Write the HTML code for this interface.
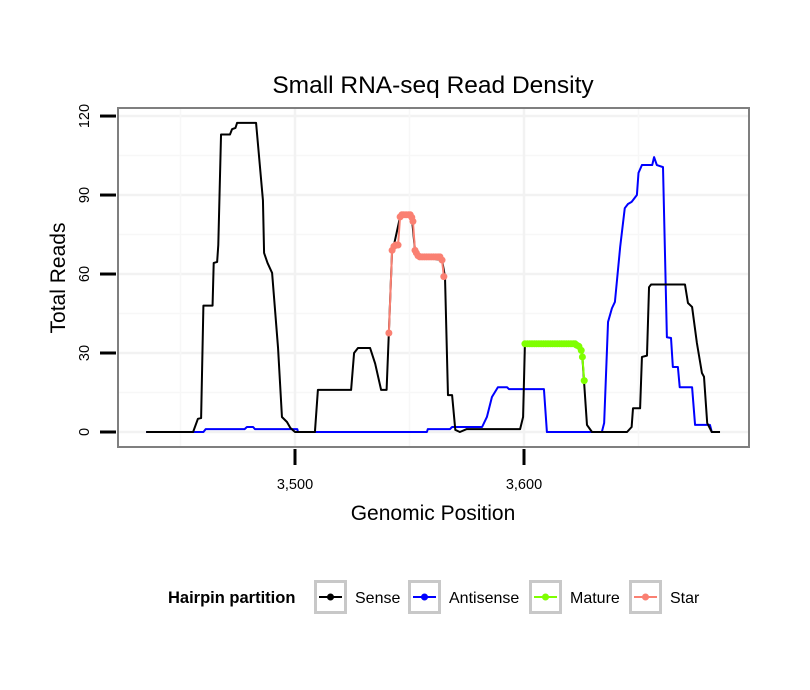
<!DOCTYPE html>
<html><head><meta charset="utf-8"><style>
body{margin:0;background:#fff;}
svg{display:block;font-family:"Liberation Sans",sans-serif;}
</style></head><body>
<svg id="c" width="810" height="690" xmlns="http://www.w3.org/2000/svg">
<text x="433" y="93" font-size="24.5" text-anchor="middle">Small RNA-seq Read Density</text>
<g id="grid"></g>
<g id="series"></g>
<rect x="118" y="108" width="631" height="339" fill="none" stroke="#7f7f7f" stroke-width="2"/>
<g id="axes"></g>
<text transform="translate(65,278) rotate(-90)" font-size="21" text-anchor="middle">Total Reads</text>
<text x="433" y="520" font-size="21" text-anchor="middle">Genomic Position</text>
<g>
<text x="168" y="603" font-size="16.5" font-weight="bold">Hairpin partition</text>
<g id="legend"></g>
</g>
</svg>
<script>
const yTicks=[0,30,60,90,120];
const xTicks=[3500,3600];
const xTickLabels=["3,500","3,600"];
const senseX=[3435,3455.5,3457.6,3459,3460,3464,3464.5,3466,3466.5,3467.7,3471.6,3472.5,3474,3474.7,3483,3486,3486.5,3488,3490,3492.6,3494.3,3496.5,3498,3500,3508.7,3510,3524.5,3525.8,3527.5,3532.8,3535,3537.6,3540,3542.4,3543.2,3545.9,3551,3552.4,3553.7,3564.2,3565.5,3566.8,3568.6,3570,3572,3575,3598.3,3599.6,3600.4,3622.3,3625.3,3627.5,3629.7,3645,3647,3647.6,3650.7,3651.5,3653.7,3654.6,3655.5,3670.3,3671.6,3673.4,3675.5,3677.7,3678.6,3680,3682,3685.6];
const senseY=[0,0,5,5.3,48,48,64.2,64.6,71,113,113,115,115.5,117.4,117.4,88,68,64.2,60.4,31.9,5.7,3.8,1.5,0,0,16,16,30,31.9,31.9,26,16,16,69,71,81.7,81.7,69,66.5,65.3,59,14,14,0.8,0,1.1,1.1,5.7,33.4,33.4,31,2.7,0,0,1.9,9,9,28.5,29,55,56,56,49,47.5,33.8,22.4,21,3.4,0,0];
const antiX=[3435,3460,3461,3478,3479,3481.7,3482.5,3501,3501.3,3557.6,3558,3567.7,3568.6,3581.7,3583.8,3586,3588.6,3592.6,3593.4,3608.7,3610,3634,3635,3636.7,3638.4,3639.7,3642,3644,3645.4,3647,3649.3,3650,3651.5,3656,3656.8,3658,3660.7,3662.4,3664.2,3665,3667.2,3668,3673.4,3674.7,3681.2,3682,3685];
const antiY=[0,0,1.1,1.1,1.9,1.9,1.1,1.1,0,0,1.1,1.1,1.9,1.9,5.7,13.3,17,17,16.3,16.3,0,0,3.4,41.8,47,49.4,70.3,85,86.6,87.4,90,98.4,101.4,101.4,104.4,101.4,100.6,36,35.7,24.7,24.7,17,17,2.7,2.7,0,0];
const starX=[3541,3542.4,3543.2,3544,3545,3545.9,3546.7,3547.5,3548.5,3549.5,3550.3,3551,3551.5,3552.4,3553,3553.7,3554.5,3555.5,3556.5,3557.5,3558.5,3559.5,3560.5,3561.5,3562.5,3563.3,3564.2,3565];
const starY=[37.6,69,70.5,71,71,81.7,82.5,82.5,82.5,82.5,82.5,81.5,80,69,68,67,66.5,66.5,66.5,66.5,66.5,66.5,66.5,66.5,66.5,66.5,65.3,59];
const matX=[3600.4,3601.5,3602.5,3603.5,3604.5,3605.5,3606.5,3607.5,3608.5,3609.5,3610.5,3611.5,3612.5,3613.5,3614.5,3615.5,3616.5,3617.5,3618.5,3619.5,3620.5,3621.5,3622.3,3623,3624,3625,3625.5,3626.3];
const matY=[33.5,33.5,33.5,33.5,33.5,33.5,33.5,33.5,33.5,33.5,33.5,33.5,33.5,33.5,33.5,33.5,33.5,33.5,33.5,33.5,33.5,33.5,33.5,33,32.5,31,28.5,19.5];
const legendLabels=["Sense","Antisense","Mature","Star"];
const legendColors=["#000000","#0000ff","#7fff00","#fa8072"];

const NS="http://www.w3.org/2000/svg";
function X(v){return 295+(v-3500)*2.29;}
function Y(v){return 432-v*2.633;}
function mk(tag,attrs,parent){const e=document.createElementNS(NS,tag);for(const k in attrs)e.setAttribute(k,attrs[k]);parent.appendChild(e);return e;}
const grid=document.getElementById('grid'),series=document.getElementById('series'),axes=document.getElementById('axes'),legend=document.getElementById('legend');
for(let i=0;i<yTicks.length;i++){
  const l=mk('line',{x1:119,x2:748,y1:Y(yTicks[i]),y2:Y(yTicks[i]),stroke:'#f2f2f2','stroke-width':2.5},grid);
  
  
  if(i<yTicks.length-1){
    const m=mk('line',{x1:119,x2:748,y1:Y((yTicks[i]+yTicks[i+1])/2),y2:Y((yTicks[i]+yTicks[i+1])/2),stroke:'#f7f7f7','stroke-width':1.5},grid);
    
    
  }
}
const step=xTicks[1]-xTicks[0];
for(let v=xTicks[0]-step;v<=xTicks[xTicks.length-1]+step;v+=step/2){
  const px=X(v);if(px<119||px>748)continue;
  const major=xTicks.includes(v);
  const l=mk('line',{x1:px,x2:px,y1:109,y2:446,stroke:major?'#f2f2f2':'#f7f7f7','stroke-width':major?2.5:1.5},grid);
  
  
}
yTicks.forEach(v=>{
  const t=mk('line',{x1:100,x2:116,y1:Y(v),y2:Y(v),stroke:'#000','stroke-width':3},axes);
  
  
  const tx=mk('text',{transform:`translate(89,${Y(v)}) rotate(-90)`,'font-size':14.5,'text-anchor':'middle'},axes);
  tx.textContent=v;
  
  
});
xTicks.forEach((v,i)=>{
  const t=mk('line',{x1:X(v),x2:X(v),y1:449,y2:465,stroke:'#000','stroke-width':3},axes);
  
  
  const tx=mk('text',{x:X(v),y:489,'font-size':14.5,'text-anchor':'middle'},axes);
  tx.textContent=xTickLabels[i];
  
  
});
function line(xs,ys,color,name){
  const p=mk('polyline',{points:xs.map((x,i)=>X(x)+','+Y(ys[i])).join(' '),fill:'none',stroke:color,'stroke-width':2,'stroke-linejoin':'round'},series);
  
  
}
function pts(xs,ys,color,name){
  xs.forEach((x,i)=>{
    const c=mk('circle',{cx:X(x),cy:Y(ys[i]),r:3.5,fill:color},series);
    
    
  });
}
line(antiX,antiY,'#0000ff','antisense-line');
line(senseX,senseY,'#000000','sense-line');
line(starX,starY,'#fa8072','star-line');
pts(starX,starY,'#fa8072','star-point');
line(matX,matY,'#7fff00','mature-line');
pts(matX,matY,'#7fff00','mature-point');
const boxX=[314,408,529,629];
legendLabels.forEach((lab,i)=>{
  const bx=boxX[i];
  const r=mk('rect',{x:bx+1.5,y:581.5,width:30,height:31,fill:'#fff',stroke:'#c8c8c8','stroke-width':3},legend);
  
  
  mk('line',{x1:bx+5,x2:bx+28,y1:597,y2:597,stroke:legendColors[i],'stroke-width':2},legend);
  mk('circle',{cx:bx+16.5,cy:597,r:3.5,fill:legendColors[i]},legend);
  const t=mk('text',{x:bx+41,y:603,'font-size':16},legend);
  t.textContent=lab;
  
  
});
</script>
</body></html>
